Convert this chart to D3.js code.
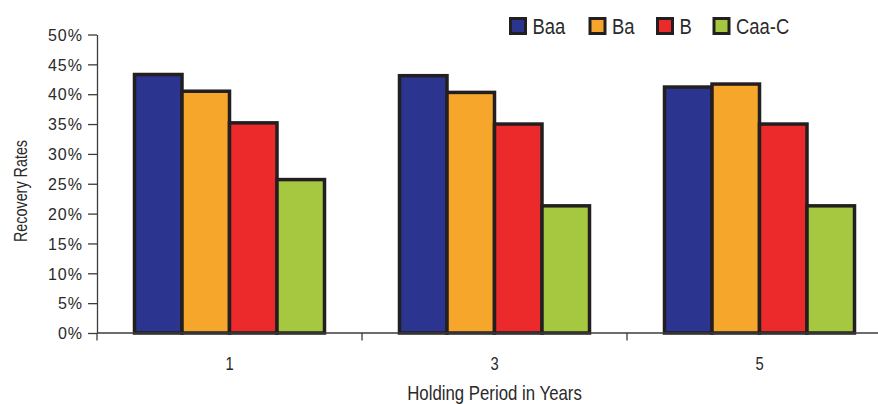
<!DOCTYPE html>
<html>
<head>
<meta charset="utf-8">
<script src="https://cdn.jsdelivr.net/npm/d3@7"></script>
<style>
  html, body { margin: 0; padding: 0; background: #fff; }
  svg { display: block; }
  text { font-family: "Liberation Sans", Arial, sans-serif; }
</style>
</head>
<body>
<svg id="chart" width="878" height="404"></svg>
<script>
// Holding periods (years) and rating classes
const periods = ["1", "3", "5"];
const ratings = ["Baa", "Ba", "B", "Caa-C"];
const colors = ["#2b3590", "#f6a62a", "#ec2a2c", "#a5c840"];

// Recovery rates by rating, one value per holding period
const baa  = [0.433, 0.431, 0.412];
const ba   = [0.405, 0.403, 0.417];
const b    = [0.352, 0.350, 0.350];
const caaC = [0.257, 0.213, 0.213];
const seriesValues = [baa, ba, b, caaC];

const yTicks = [0, 0.05, 0.10, 0.15, 0.20, 0.25, 0.30, 0.35, 0.40, 0.45, 0.50];

const svg = d3.select("#chart");
const plotLeft = 97, plotBottom = 333, plotTop = 34.5;
const textColor = "#2a2a2a";
const axisColor = "#3c3c3c";
const condense = 0.82; // horizontal squeeze for the condensed label style

const x = d3.scaleBand().domain(periods).range([plotLeft, plotLeft + 265 * 3]).padding(0);
const x1 = d3.scaleBand().domain(ratings).range([37.5, 227.5]).padding(0);
const y = d3.scaleLinear().domain([0, 0.5]).range([plotBottom, plotTop]);

// Condensed text placed at (tx, ty), optionally rotated
function condensedText(parent, tx, ty, size, anchor, str, rot = 0) {
  return parent.append("text")
    .attr("transform", `translate(${tx},${ty}) rotate(${rot}) scale(${condense},1)`)
    .attr("text-anchor", anchor)
    .attr("fill", textColor)
    .style("font-size", size + "px")
    .text(str);
}

// Bars
const rows = [];
periods.forEach((p, i) => ratings.forEach((r, j) => rows.push({ p, r, j, v: seriesValues[j][i] })));
svg.append("g").selectAll("rect").data(rows).join("rect")
  .attr("x", d => x(d.p) + x1(d.r))
  .attr("y", d => y(d.v))
  .attr("width", x1.bandwidth())
  .attr("height", d => y(0) - y(d.v))
  .attr("fill", d => colors[d.j])
  .attr("stroke", "#231f20")
  .attr("stroke-width", 3.5);

// Y axis
const yAxis = svg.append("g").attr("transform", `translate(${plotLeft},0)`)
  .call(d3.axisLeft(y).tickValues(yTicks).tickFormat(d3.format(".0%")).tickSize(9).tickSizeOuter(0));
yAxis.select(".domain").attr("stroke", axisColor).attr("stroke-width", 1.3);
yAxis.selectAll(".tick line").attr("stroke", axisColor).attr("stroke-width", 1.3);
yAxis.selectAll(".tick text")
  .attr("x", -14).attr("dy", "0.36em")
  .attr("fill", textColor)
  .style("font-family", "'Liberation Sans', Arial, sans-serif")
  .style("font-size", "16px")
  .style("letter-spacing", "1px");

// X axis line across the plot and separators between groups
const xAxis = svg.append("g");
xAxis.append("line")
  .attr("x1", plotLeft).attr("x2", 878)
  .attr("y1", plotBottom).attr("y2", plotBottom)
  .attr("stroke", axisColor).attr("stroke-width", 1.3);
xAxis.selectAll("line.sep").data(periods).join("line").attr("class", "sep")
  .attr("x1", d => x(d)).attr("x2", d => x(d))
  .attr("y1", plotBottom).attr("y2", plotBottom + 7.5)
  .attr("stroke", axisColor).attr("stroke-width", 1.3);
periods.forEach(p => condensedText(xAxis, x(p) + x.bandwidth() / 2, 370, 18, "middle", p));

// Axis titles
condensedText(svg, 494.5, 399.5, 20.5, "middle", "Holding Period in Years");
condensedText(svg, 27, 191, 17.5, "middle", "Recovery Rates", -90);

// Legend
const legendX = [510.5, 590, 657.5, 714];
const legend = svg.append("g");
ratings.forEach((r, i) => {
  const g = legend.append("g").attr("transform", `translate(${legendX[i]},18.5)`);
  g.append("rect")
    .attr("width", 15).attr("height", 15)
    .attr("fill", colors[i])
    .attr("stroke", "#231f20").attr("stroke-width", 3);
  condensedText(g, 22, 15, 22.5, "start", r);
});
</script>
</body>
</html>
